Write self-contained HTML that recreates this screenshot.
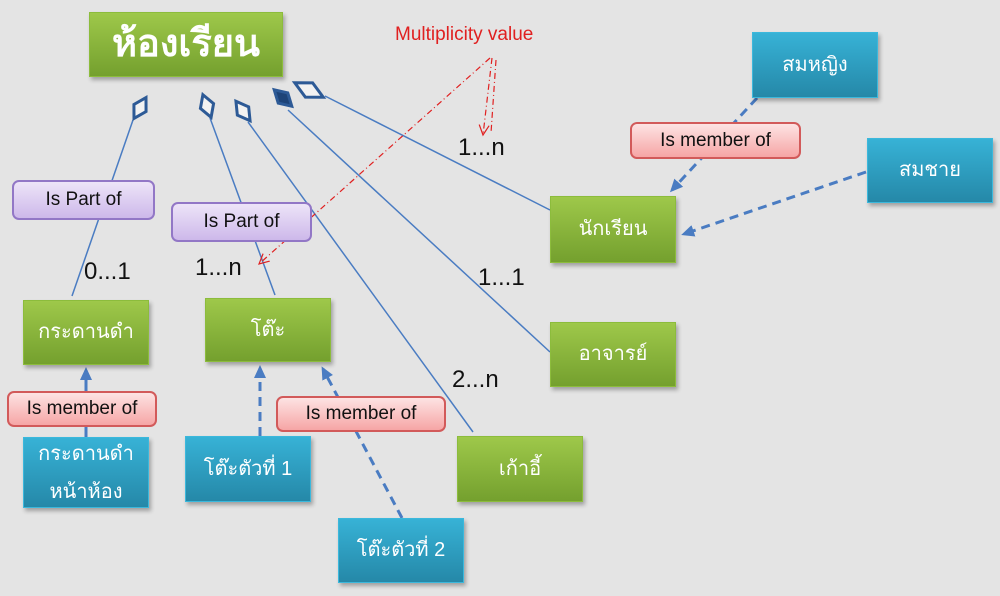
<!DOCTYPE html>
<html><head><meta charset="utf-8"><style>
body{margin:0;width:1000px;height:596px;background:#e4e4e4;position:relative;overflow:hidden;font-family:"Liberation Sans","Noto Sans CJK SC",sans-serif}
.b{position:absolute;display:flex;align-items:center;justify-content:center;color:#fff;font-size:20px;box-shadow:2px 3px 4px rgba(0,0,0,.3);text-align:center;line-height:1.55}
.g{background:linear-gradient(#9ec84a,#74a02e);border:1px solid #8cbc3c}
.c{background:linear-gradient(#37b2d6,#2588a8);border:1px solid #3bb8dc}
.p{position:absolute;background:linear-gradient(#fde3e3,#f6a5a5);border:2px solid #d25a5a;border-radius:7px;font-size:19px;display:flex;align-items:center;justify-content:center;color:#111}
.v{position:absolute;background:linear-gradient(#ede4f8,#cdb8ea);border:2px solid #9277c6;border-radius:7px;font-size:19px;display:flex;align-items:center;justify-content:center;color:#111}
.m{position:absolute;font-size:24px;color:#111}
svg{position:absolute;left:0;top:0}
</style></head><body>
<svg width="1000" height="596">
<defs><marker id="a" markerUnits="userSpaceOnUse" markerWidth="14" markerHeight="14" refX="10" refY="7" orient="auto"><path d="M0,1L13,7L0,13z" fill="#4a7cc2"/></marker>
<marker id="r" markerUnits="userSpaceOnUse" markerWidth="12" markerHeight="12" refX="10" refY="6" orient="auto"><path d="M0,1L10,6L0,11" fill="none" stroke="#e02020" stroke-width="1.2"/></marker></defs>
<g stroke="#4a7cc2" stroke-width="1.5" fill="none">
<line x1="133" y1="120" x2="72" y2="296"/>
<line x1="210" y1="118" x2="275" y2="295"/>
<line x1="248" y1="122" x2="473" y2="432"/>
<line x1="288" y1="110" x2="550" y2="352"/>
<line x1="325" y1="96" x2="550" y2="210"/>
</g>
<g stroke="#2d5a96" stroke-width="3" fill="#f2f2f2">
<path d="M0,-12 L7,0 L0,12 L-7,0z" transform="translate(140,108) rotate(30)"/>
<path d="M0,-12 L7,0 L0,12 L-7,0z" transform="translate(207,106) rotate(-20)"/>
<path d="M0,-12 L7,0 L0,12 L-7,0z" transform="translate(243,111) rotate(-36)"/>
<path d="M0,-12 L7,0 L0,12 L-7,0z" transform="translate(283,98) rotate(-47)" fill="#1e4478"/>
<path d="M0,-16 L8,0 L0,16 L-8,0z" transform="translate(309,90) rotate(-63)"/>
</g>
<g stroke="#4a7cc2" stroke-width="3" fill="none" stroke-dasharray="9,6">
<line x1="757" y1="98" x2="672" y2="190" marker-end="url(#a)"/>
<line x1="866" y1="172" x2="684" y2="234" marker-end="url(#a)"/>
<line x1="86" y1="437" x2="86" y2="370" stroke-dasharray="none" marker-end="url(#a)"/>
<line x1="260" y1="436" x2="260" y2="368" marker-end="url(#a)"/>
<line x1="402" y1="518" x2="323" y2="369" marker-end="url(#a)"/>
</g>
<g stroke="#e02020" stroke-width="1.2" fill="none" stroke-dasharray="6,3,1,3">
<line x1="492" y1="58" x2="483" y2="135" marker-end="url(#r)"/>
<line x1="496" y1="60" x2="491" y2="133"/>
<line x1="490" y1="58" x2="259" y2="264" marker-end="url(#r)"/>
</g>
</svg>
<div class="b g" style="left:89px;top:12px;width:192px;height:63px;font-size:38px;font-weight:bold">ห้องเรียน</div>
<div class="b g" style="left:23px;top:300px;width:124px;height:63px">กระดานดำ</div>
<div class="b g" style="left:205px;top:298px;width:124px;height:62px">โต๊ะ</div>
<div class="b g" style="left:550px;top:196px;width:124px;height:65px">นักเรียน</div>
<div class="b g" style="left:550px;top:322px;width:124px;height:63px">อาจารย์</div>
<div class="b g" style="left:457px;top:436px;width:124px;height:64px">เก้าอี้</div>
<div class="b c" style="left:752px;top:32px;width:124px;height:64px">สมหญิง</div>
<div class="b c" style="left:867px;top:138px;width:124px;height:63px">สมชาย</div>
<div class="b c" style="left:23px;top:437px;width:124px;height:69px;line-height:1.9">กระดานดำ<br>หน้าห้อง</div>
<div class="b c" style="left:185px;top:436px;width:124px;height:64px">โต๊ะตัวที่ 1</div>
<div class="b c" style="left:338px;top:518px;width:124px;height:63px">โต๊ะตัวที่ 2</div>
<div class="p" style="left:7px;top:391px;width:146px;height:32px">Is member of</div>
<div class="p" style="left:276px;top:396px;width:166px;height:32px">Is member of</div>
<div class="p" style="left:630px;top:122px;width:167px;height:33px">Is member of</div>
<div class="v" style="left:12px;top:180px;width:139px;height:36px">Is Part of</div>
<div class="v" style="left:171px;top:202px;width:137px;height:36px">Is Part of</div>
<div class="m" style="left:84px;top:258px">0...1</div>
<div class="m" style="left:195px;top:254px">1...n</div>
<div class="m" style="left:458px;top:134px">1...n</div>
<div class="m" style="left:478px;top:264px">1...1</div>
<div class="m" style="left:452px;top:366px">2...n</div>
<div style="position:absolute;left:395px;top:24px;color:#e02020;font-size:19px">Multiplicity value</div>
</body></html>
